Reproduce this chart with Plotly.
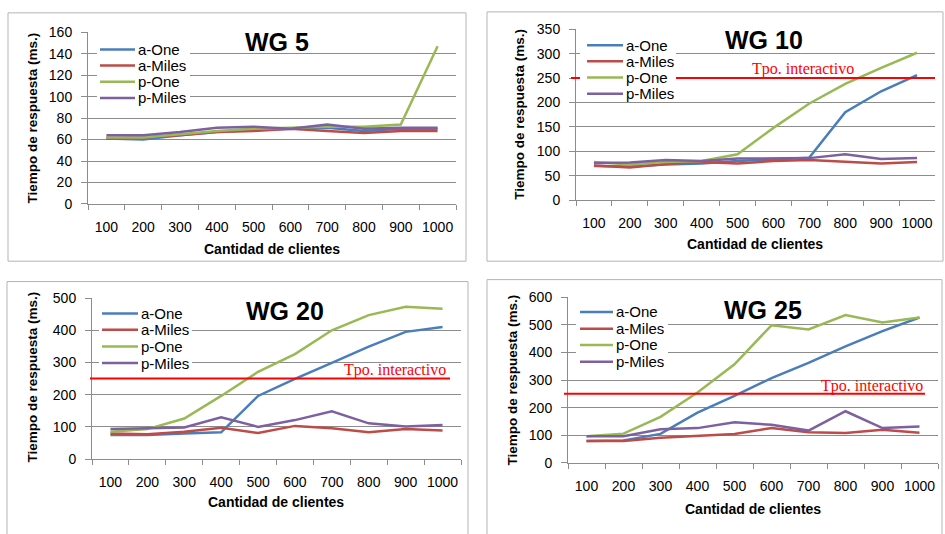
import plotly.graph_objects as go

W, H = 945, 534

categories = ["100", "200", "300", "400", "500", "600", "700", "800", "900", "1000"]
series_names = ["a-One", "a-Miles", "p-One", "p-Miles"]
series_colors = ["#4A7EBB", "#BE4B48", "#98B954", "#7D60A0"]

panel_titles = ["WG 5", "WG 10", "WG 20", "WG 25"]
y_axis_maxes = [160, 350, 500, 600]
y_axis_dticks = [20, 50, 100, 100]
interactive_threshold = 250
interactive_label = "Tpo. interactivo"
x_title = "Cantidad de clientes"
y_title = "Tiempo de respuesta (ms.)"

# WG 5
wg5_a_one = [61, 60, 64, 67, 69, 70, 71, 68, 70, 70]
wg5_a_miles = [61, 62, 64, 67, 68, 70, 68, 66, 68, 68]
wg5_p_one = [62, 62, 65, 68, 70, 71, 72, 72, 74, 147]
wg5_p_miles = [64, 64, 67, 71, 72, 70, 74, 70, 71, 71]

# WG 10
wg10_a_one = [70, 69, 73, 75, 80, 84, 87, 180, 223, 256]
wg10_a_miles = [71, 67, 74, 78, 75, 80, 82, 78, 75, 78]
wg10_p_one = [78, 73, 78, 80, 94, 148, 198, 238, 271, 302]
wg10_p_miles = [76, 77, 82, 80, 85, 85, 86, 94, 84, 86]

# WG 20
wg20_a_one = [75, 75, 79, 83, 196, 249, 299, 349, 395, 410]
wg20_a_miles = [79, 77, 85, 97, 81, 103, 96, 83, 93, 89]
wg20_p_one = [85, 93, 126, 196, 271, 326, 400, 447, 473, 467]
wg20_p_miles = [93, 95, 98, 130, 100, 121, 148, 111, 101, 106]

# WG 25
wg25_a_one = [79, 81, 105, 182, 243, 307, 362, 422, 477, 526]
wg25_a_miles = [79, 79, 91, 99, 105, 126, 111, 108, 120, 109]
wg25_p_one = [97, 106, 167, 255, 357, 498, 483, 535, 508, 526]
wg25_p_miles = [97, 97, 122, 126, 147, 138, 117, 187, 126, 132]

panel_data = [
    [wg5_a_one, wg5_a_miles, wg5_p_one, wg5_p_miles],
    [wg10_a_one, wg10_a_miles, wg10_p_one, wg10_p_miles],
    [wg20_a_one, wg20_a_miles, wg20_p_one, wg20_p_miles],
    [wg25_a_one, wg25_a_miles, wg25_p_one, wg25_p_miles],
]


def px(x):
    return x / W


def py(y):
    return 1 - y / H


# layout geometry (window pixels)
layouts = [
    dict(plot=(88, 456, 25, 202), box=(8, 466, 5, 261), title=(277, 35),
         leg_line=(100, 135), leg_rows=(42.7, 59.3, 76, 92.7), leg_bg=(97, 190, 33, 101),
         red=None, ytitle=(33, 114), xtitle=(272, 248)),
    dict(plot=(576, 935, 22, 198), box=(487, 943, 4, 261), title=(764, 33),
         leg_line=(587, 623), leg_rows=(38.3, 55, 71.7, 88.3), leg_bg=(580, 676, 29, 97),
         red=(571, 935, (803, 62.7)), ytitle=(520, 110), xtitle=(755, 243)),
    dict(plot=(92, 461, 299, 465), box=(7, 468, 282, 545), title=(285, 312),
         leg_line=(102, 138), leg_rows=(315, 331.7, 349, 366), leg_bg=(99, 192, 306, 374),
         red=(90, 450, (395, 373)), ytitle=(33, 381), xtitle=(276, 509)),
    dict(plot=(568, 938, 298, 469), box=(487, 942, 280, 545), title=(763, 311),
         leg_line=(580, 613), leg_rows=(313.3, 330.7, 347.3, 364.7), leg_bg=(576, 668, 304, 373),
         red=(564, 925, (872, 390)), ytitle=(512, 384), xtitle=(753, 516)),
]

fig = go.Figure()
shapes = []
annotations = []
grid_color = "#8C8C8C"
font_family = "Liberation Sans, Arial, sans-serif"

for i, (lay, data) in enumerate(zip(layouts, panel_data)):
    n = "" if i == 0 else str(i + 1)
    xa, ya = "x" + n, "y" + n
    for name, color, vals in zip(series_names, series_colors, data):
        fig.add_trace(go.Scatter(
            x=categories, y=vals, name=name, mode="lines",
            line=dict(color=color, width=2.5), xaxis=xa, yaxis=ya,
            showlegend=False))
    x0, x1, y0, y1 = lay["plot"]
    fig.layout["xaxis" + n] = dict(
        domain=[px(x0), px(x1)], anchor=ya, type="category",
        categoryorder="array", categoryarray=categories,
        tickson="boundaries", ticks="outside", ticklen=5, tickcolor=grid_color,
        showline=True, linecolor=grid_color, linewidth=1, showgrid=False,
        tickangle=0,
        tickfont=dict(size=14, color="#000000", family=font_family),
        ticklabelstandoff=10, range=[-0.5, 9.5], fixedrange=True)
    fig.layout["yaxis" + n] = dict(
        domain=[py(y1), py(y0)], anchor=xa, range=[0, y_axis_maxes[i]],
        dtick=y_axis_dticks[i], tick0=0, showgrid=True, gridcolor=grid_color,
        gridwidth=1, ticks="outside", ticklen=6, tickcolor=grid_color,
        showline=True, linecolor=grid_color, linewidth=1, zeroline=False,
        tickfont=dict(size=14, color="#000000", family=font_family),
        ticklabelstandoff=6, fixedrange=True)

    # panel frame
    bx0, bx1, by0, by1 = lay["box"]
    shapes.append(dict(type="rect", xref="paper", yref="paper", x0=px(bx0), x1=px(bx1),
                       y0=py(by1), y1=py(by0), line=dict(color="#B4B4B4", width=1),
                       fillcolor="rgba(0,0,0,0)", layer="below"))

    # interactive threshold
    if lay["red"] is not None:
        rx0, rx1, (tx, ty) = lay["red"]
        shapes.append(dict(type="line", xref="paper", yref=ya, x0=px(rx0), x1=px(rx1),
                           y0=interactive_threshold, y1=interactive_threshold,
                           line=dict(color="#FF0000", width=2), layer="above"))
        annotations.append(dict(text=interactive_label, xref="paper", yref="paper",
                                x=px(tx), y=py(ty), showarrow=False, xanchor="center",
                                yanchor="middle",
                                font=dict(size=16, color="#FF0000",
                                          family="Liberation Serif, Times New Roman, serif")))

    # legend background
    lx0, lx1, ly0, ly1 = lay["leg_bg"]
    shapes.append(dict(type="rect", xref="paper", yref="paper", x0=px(lx0), x1=px(lx1),
                       y0=py(ly1), y1=py(ly0), line=dict(width=0), fillcolor="#FFFFFF",
                       layer="above"))
    sx0, sx1 = lay["leg_line"]
    for name, color, ry in zip(series_names, series_colors, lay["leg_rows"]):
        shapes.append(dict(type="line", xref="paper", yref="paper", x0=px(sx0), x1=px(sx1),
                           y0=py(ry), y1=py(ry), line=dict(color=color, width=2.5),
                           layer="above"))
        annotations.append(dict(text=name, xref="paper", yref="paper", x=px(sx1 + 1),
                                y=py(ry), xanchor="left", yanchor="middle", showarrow=False,
                                font=dict(size=15, color="#000000", family=font_family)))

    # panel title
    tx, ty = lay["title"]
    annotations.append(dict(text="<b>" + panel_titles[i] + "</b>", xref="paper", yref="paper",
                            x=px(tx), y=py(ty), showarrow=False, xanchor="center",
                            yanchor="middle",
                            font=dict(size=25, color="#000000", family=font_family)))
    # axis titles
    ytx, yty = lay["ytitle"]
    annotations.append(dict(text="<b>" + y_title + "</b>", xref="paper", yref="paper",
                            x=px(ytx), y=py(yty), showarrow=False, textangle=-90,
                            xanchor="center", yanchor="middle",
                            font=dict(size=13.5, color="#000000", family=font_family)))
    xtx, xty = lay["xtitle"]
    annotations.append(dict(text="<b>" + x_title + "</b>", xref="paper", yref="paper",
                            x=px(xtx), y=py(xty), showarrow=False,
                            xanchor="center", yanchor="middle",
                            font=dict(size=14, color="#000000", family=font_family)))

fig.update_layout(
    width=W, height=H, margin=dict(l=0, r=0, t=0, b=0),
    paper_bgcolor="#FFFFFF", plot_bgcolor="#FFFFFF",
    showlegend=False, shapes=shapes, annotations=annotations,
    font=dict(family=font_family, color="#000000"),
)

# remove the browser's default 8px body margin so the figure fills the window exactly
fig.write_html("out.html", config={"displayModeBar": False},
               post_script="document.body.style.margin='0';document.body.style.overflow='hidden';")
